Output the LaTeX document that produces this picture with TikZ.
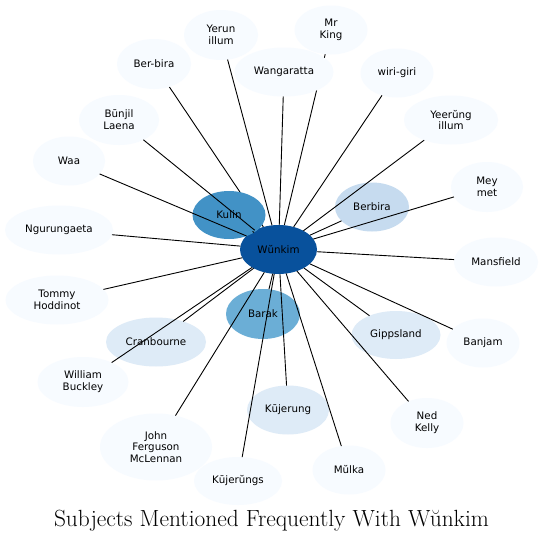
\documentclass[tikz,border=0pt]{standalone}
\usepackage{fontspec}
\usetikzlibrary{shapes.geometric,backgrounds}
\newfontfamily\nodefont{DejaVu Sans}
\definecolor{blA}{HTML}{F7FBFF}
\definecolor{blB}{HTML}{DEEBF7}
\definecolor{blC}{HTML}{C6DBEF}
\definecolor{blE}{HTML}{6BAED6}
\definecolor{blF}{HTML}{4292C6}
\definecolor{blH}{HTML}{08519C}
\tikzset{
  nd/.style 2 args={ellipse, draw=none, inner sep=0pt, outer sep=0pt,
    minimum width=2*#1 pt, minimum height=2*#2 pt,
    font=\nodefont\fontsize{10.3}{11.8}\selectfont, align=center, text=black},
  cA/.style={fill=blA}, cB/.style={fill=blB}, cC/.style={fill=blC},
  cE/.style={fill=blE}, cF/.style={fill=blF}, cH/.style={fill=blH},
  edge/.style={draw=black, line width=0.9pt},
  titlestyle/.style={font=\fontsize{23.4}{28}\selectfont, inner sep=0pt, anchor=base}
}
\begin{document}
\begin{tikzpicture}[x=1pt,y=-1pt]
\useasboundingbox (0,0) rectangle (544,541);
\begin{pgfonlayer}{background}
\fill[white] (0,0) rectangle (544,541);
\end{pgfonlayer}
% central and frequent nodes
\node[nd={38.5}{24.5}, cH] (wunkim) at (278.5,249.5) {Wŭnkim};
\node[nd={36.5}{24}, cF] (kulin) at (229,215) {Kulin};
\node[nd={37}{25}, cE] (barak) at (263,314) {Barak};
\node[nd={37}{24.5}, cC] (berbira) at (372,207) {Berbira};
\node[nd={50}{24.5}, cB] (cranbourne) at (156,342) {Cranbourne};
\node[nd={44.5}{24}, cB] (gippsland) at (396,335) {Gippsland};
\node[nd={41}{24.5}, cB] (kujerung) at (288,410) {Kūjerung};
% outer nodes
\node[nd={37}{25}, cA] (yerun) at (221,35) {Yerun\\illum};
\node[nd={37}{25}, cA] (berbirab) at (154,64) {Ber-bira};
\node[nd={40}{25}, cA] (bunjil) at (119,120) {Būnjil\\Laena};
\node[nd={36}{24.5}, cA] (waa) at (69,161) {Waa};
\node[nd={54}{24.5}, cA] (ngurungaeta) at (59,230) {Ngurungaeta};
\node[nd={49.5}{24.5}, cA] (wangaratta) at (284,72) {Wangaratta};
\node[nd={36.5}{24.5}, cA] (mrking) at (331,30) {Mr\\King};
\node[nd={36.5}{24.5}, cA] (wirigiri) at (397,73) {wiri-giri};
\node[nd={47}{24.5}, cA] (yeerung) at (451,120) {Yeerŭng\\illum};
\node[nd={36}{25}, cA] (meymet) at (487,187) {Mey\\met};
\node[nd={42}{24.5}, cA] (mansfield) at (496,262) {Mansfield};
\node[nd={51.5}{24.5}, cA] (tommy) at (57,300) {Tommy\\Hoddinot};
\node[nd={45.5}{25}, cA] (buckley) at (83,382) {William\\Buckley};
\node[nd={56}{33.5}, cA] (mclennan) at (156,447) {John\\Ferguson\\McLennan};
\node[nd={44}{24}, cA] (kujerungs) at (238,481) {Kūjerŭngs};
\node[nd={36.5}{24.5}, cA] (banjam) at (483,343) {Banjam};
\node[nd={36.5}{25}, cA] (nedkelly) at (427,423) {Ned\\Kelly};
\node[nd={36.5}{24.5}, cA] (mulka) at (349,470) {Mŭlka};
% edges hidden beneath other nodes
\begin{pgfonlayer}{background}
\draw[edge] (wunkim) -- (berbirab);
\draw[edge] (wunkim) -- (mrking);
\end{pgfonlayer}
% edges drawn over nodes
\foreach \t in {kulin,barak,berbira,cranbourne,gippsland,kujerung,yerun,bunjil,waa,ngurungaeta,wangaratta,wirigiri,yeerung,meymet,mansfield,tommy,buckley,mclennan,kujerungs,banjam,nedkelly,mulka}
  \draw[edge] (wunkim) -- (\t);
\node[titlestyle] (title) at (271.5,526) {Subjects Mentioned Frequently With Wŭnkim};
\end{tikzpicture}
\end{document}
